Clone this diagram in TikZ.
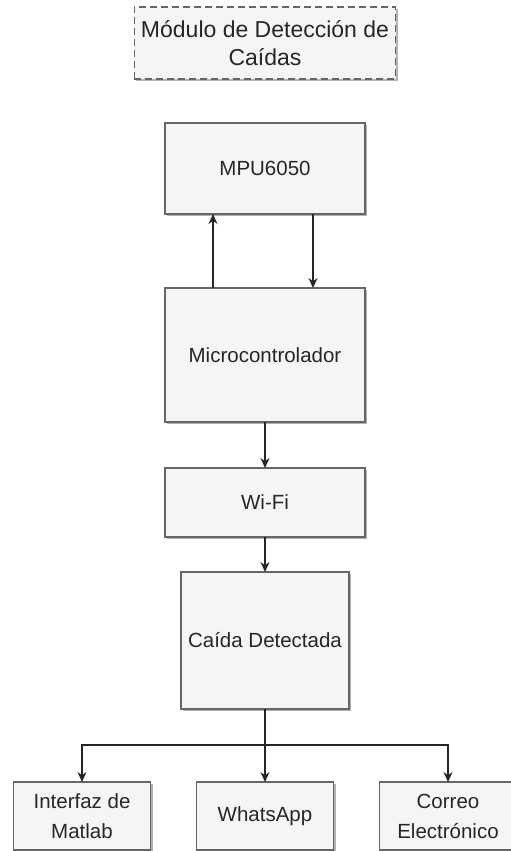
\documentclass[tikz,border=0pt]{standalone}
\usepackage{fontspec}
\setmainfont{Liberation Sans}
\usetikzlibrary{arrows.meta, positioning, shadows}
\definecolor{boxfill}{HTML}{F5F5F5}
\definecolor{boxline}{HTML}{666666}
\definecolor{txt}{HTML}{262626}

\begin{document}
\begin{tikzpicture}[>={Stealth[length=5pt, width=4.5pt]}, x=0.5pt, y=-0.5pt,
  blk/.style={draw=boxline, line width=0.7pt, fill=boxfill, text=txt, outer sep=0pt,
              drop shadow={shadow xshift=1pt, shadow yshift=-1pt,
                           fill=black, opacity=0.3},
              align=center, font=\fontsize{10.25}{15}\selectfont},
  link/.style={line width=0.6pt, draw=black!85}]
  \useasboundingbox (0,0) rectangle (510,851);

  \node[blk, dash pattern=on 3.5pt off 2pt, minimum width=129.5pt, minimum height=36pt,
        font=\fontsize{11.5}{14}\selectfont] (title) at (265,43)
    {Módulo de Detección de\\Caídas};
  \node[blk, minimum width=100pt, minimum height=45.5pt, below=22pt of title] (mpu) {MPU6050};
  \node[blk, minimum width=100pt, minimum height=67pt, below=37pt of mpu] (mcu) {Microcontrolador};
  \node[blk, minimum width=100pt, minimum height=34.5pt, below=23pt of mcu] (wifi) {Wi-Fi};
  \node[blk, minimum width=84pt, minimum height=68.5pt, below=17.5pt of wifi] (fall) {Caída Detectada};

  % salidas
  \node[blk, minimum width=68.5pt, minimum height=34pt, below=36.5pt of fall] (wa) {WhatsApp};
  \node[blk, minimum width=68.5pt, minimum height=34pt, left=23pt of wa] (mat) {Interfaz de\\Matlab};
  \node[blk, minimum width=68.5pt, minimum height=34pt, right=23pt of wa] (mail) {Correo\\Electrónico};

  \draw[link, ->] ([xshift=-26pt]mcu.north) -- ([xshift=-26pt]mpu.south);
  \draw[link, ->] ([xshift=24pt]mpu.south) -- ([xshift=24pt]mcu.north);
  \draw[link, ->] (mcu) -- (wifi);
  \draw[link, ->] (wifi) -- (fall);

  \coordinate[below=18pt of fall] (split);
  \draw[link] (fall) -- (split);
  \draw[link, ->] (split) -| (mat);
  \draw[link, ->] (split) -- (wa);
  \draw[link, ->] (split) -| (mail);
\end{tikzpicture}
\end{document}
